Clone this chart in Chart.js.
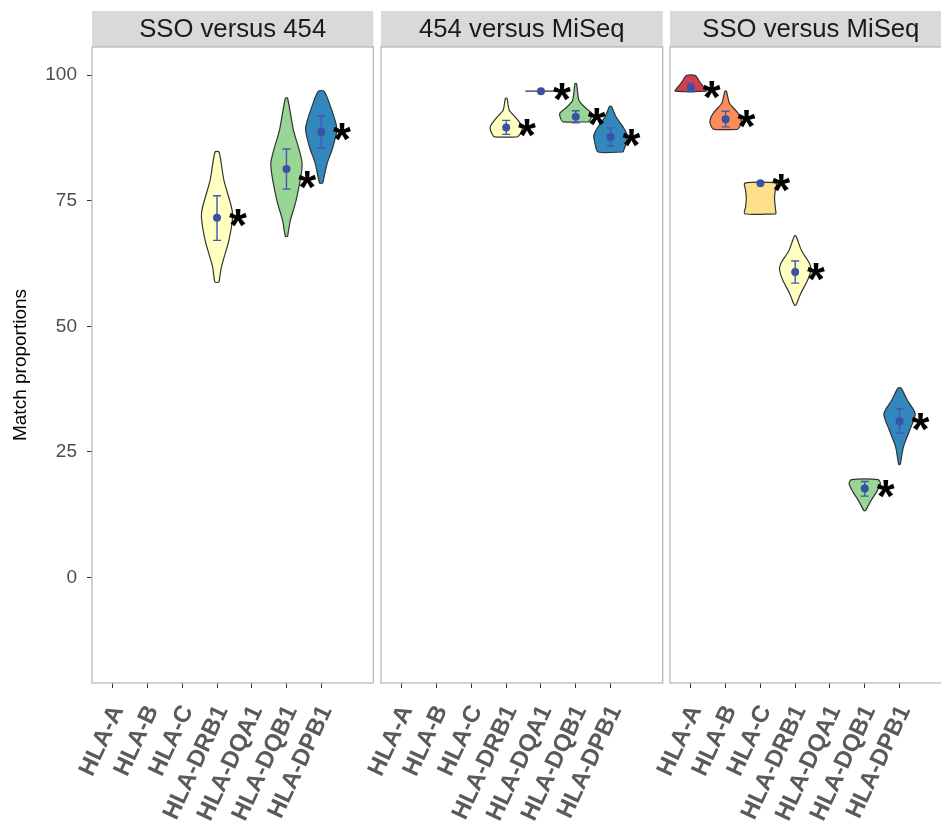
<!DOCTYPE html>
<html>
<head>
<meta charset="utf-8">
<script src="https://cdn.jsdelivr.net/npm/chart.js@4.4.0/dist/chart.umd.min.js"></script>
<style>
  html, body { margin: 0; padding: 0; background: #fff; overflow: hidden; width: 941px; height: 834px; }
  canvas { position: absolute; top: 0; }
</style>
</head>
<body>
<canvas id="p1" width="380" height="834" style="left:0px"></canvas>
<canvas id="p2" width="400" height="834" style="left:300px"></canvas>
<canvas id="p3" width="400" height="834" style="left:590px"></canvas>
<script>
// categories and colours (Spectral)
const genes = ['HLA-A', 'HLA-B', 'HLA-C', 'HLA-DRB1', 'HLA-DQA1', 'HLA-DQB1', 'HLA-DPB1'];
const geneColors = ['#D53E4F', '#FC8D59', '#FEE08B', '#FFFFBF', '#E6F598', '#99D594', '#3288BD'];
const yTicks = [0, 25, 50, 75, 100];

// SSO versus 454
const p1Genes = ['HLA-DRB1', 'HLA-DQB1', 'HLA-DPB1'];
const p1Mean = [71.6, 81.3, 88.7];
const p1Lo = [67.1, 77.3, 85.5];
const p1Hi = [76.0, 85.3, 91.9];
const p1Star = [71.6, 79.1, 88.7];
// violin outlines: heights (bottom to top) and relative half widths
const p1VioY = [
  [58.8, 61.8, 67.1, 71.8, 73.8, 79.1, 84.7],
  [67.9, 71.1, 75.1, 82.4, 89.0, 95.4],
  [78.5, 82.4, 85.7, 89.4, 93.7, 96.8]
];
const p1VioW = [
  [0.13, 0.28, 0.76, 1, 0.92, 0.44, 0.13],
  [0.07, 0.25, 0.62, 1, 0.45, 0.07],
  [0.1, 0.38, 0.75, 1, 0.6, 0.18]
];

// 454 versus MiSeq
const p2Genes = ['HLA-DRB1', 'HLA-DQA1', 'HLA-DQB1', 'HLA-DPB1'];
const p2Mean = [89.6, 96.8, 91.7, 87.7];
const p2Lo = [88.2, null, 90.5, 85.9];
const p2Hi = [91.0, null, 92.9, 89.5];
const p2Star = [89.4, 96.7, 91.7, 87.5];
const p2VioY = [
  [87.7, 88.4, 89.7, 91.4, 93.0, 95.4],
  [96.8, 96.8],
  [90.7, 91.4, 92.4, 93.7, 95.0, 98.3],
  [84.7, 86.1, 88.0, 89.7, 91.7, 93.8]
];
const p2VioW = [
  [0.72, 0.92, 1.02, 0.65, 0.2, 0.05],
  [1, 1],
  [0.82, 0.97, 1.02, 0.55, 0.2, 0.05],
  [0.8, 0.97, 1.07, 0.8, 0.35, 0.06]
];

// SSO versus MiSeq
const p3Genes = ['HLA-A', 'HLA-B', 'HLA-C', 'HLA-DRB1', 'HLA-DQB1', 'HLA-DPB1'];
const p3Mean = [97.5, 91.2, 78.5, 60.8, 17.7, 31.1];
const p3Lo = [96.7, 89.7, null, 58.6, 16.2, 28.7];
const p3Hi = [98.4, 92.8, null, 63.0, 19.1, 33.6];
const p3Star = [97.1, 91.2, 78.5, 60.8, 17.7, 30.9];
const p3VioY = [
  [96.8, 97.6, 98.5, 99.9],
  [89.2, 90.0, 91.0, 92.4, 94.4, 96.8],
  [72.4, 73.8, 75.5, 77.1, 78.5],
  [54.2, 56.5, 59.2, 61.2, 62.5, 65.1, 68.0],
  [13.3, 15.3, 17.0, 18.7, 19.5],
  [22.5, 26.0, 29.3, 32.6, 35.3, 37.7]
];
const p3VioW = [
  [1, 0.84, 0.6, 0.28],
  [0.75, 0.95, 1, 0.8, 0.25, 0.05],
  [1, 0.95, 0.9, 0.95, 1],
  [0.05, 0.35, 0.8, 1, 0.92, 0.4, 0.05],
  [0.05, 0.4, 0.75, 1, 0.85],
  [0.05, 0.25, 0.65, 1, 0.5, 0.1]
];

const FONT = '"Liberation Sans", Arial, Helvetica, sans-serif';
const HALF = 0.45;       // max violin half width in category units
const STAR_DX = 0.6;

function violin(gene, ys, ws) {
  const gi = genes.indexOf(gene);
  const cx = gi + 1;
  const pts = [];
  for (let i = 0; i < ys.length; i++) pts.push({ x: cx + ws[i] * HALF, y: ys[i] });
  for (let i = ys.length - 1; i >= 0; i--) pts.push({ x: cx - ws[i] * HALF, y: ys[i] });
  pts.push(pts[0]);
  return {
    type: 'scatter',
    label: gene,
    data: pts,
    showLine: true,
    fill: 'shape',
    tension: 0.25,
    backgroundColor: geneColors[gi],
    borderColor: '#333333',
    borderWidth: 1.2,
    pointRadius: 0,
    order: 2
  };
}

function panelPlugin(title, gs, lo, hi, star) {
  return {
    id: 'panel',
    beforeDraw(chart) {
      const { ctx, chartArea: a } = chart;
      ctx.save();
      ctx.fillStyle = '#D9D9D9';
      ctx.fillRect(a.left, 11, a.right - a.left, a.top - 11);
      ctx.fillStyle = '#1A1A1A';
      ctx.font = '25.7px ' + FONT;
      ctx.textAlign = 'center';
      ctx.textBaseline = 'middle';
      ctx.fillText(title, (a.left + a.right) / 2, (11 + a.top) / 2 + 1);
      ctx.restore();
    },
    beforeDatasetDraw(chart, args) {
      if (chart.data.datasets[args.index].label !== 'mean') return;
      const { ctx } = chart;
      const xs = chart.scales.x, ysc = chart.scales.y;
      ctx.save();
      ctx.strokeStyle = '#4358B0';
      ctx.lineWidth = 1.4;
      gs.forEach((g, i) => {
        if (lo[i] == null) return;
        const px = xs.getPixelForValue(genes.indexOf(g) + 1);
        const y1 = ysc.getPixelForValue(lo[i]), y2 = ysc.getPixelForValue(hi[i]);
        ctx.beginPath();
        ctx.moveTo(px, y1); ctx.lineTo(px, y2);
        ctx.moveTo(px - 4, y1); ctx.lineTo(px + 4, y1);
        ctx.moveTo(px - 4, y2); ctx.lineTo(px + 4, y2);
        ctx.stroke();
      });
      ctx.restore();
    },
    afterDatasetsDraw(chart) {
      const { ctx } = chart;
      const xs = chart.scales.x, ysc = chart.scales.y;
      ctx.save();
      ctx.fillStyle = '#000';
      ctx.font = 'bold 46px ' + FONT;
      ctx.textAlign = 'center';
      ctx.textBaseline = 'alphabetic';
      const m = ctx.measureText('*');
      const off = (m.actualBoundingBoxAscent - m.actualBoundingBoxDescent) / 2;
      gs.forEach((g, i) => {
        const px = xs.getPixelForValue(genes.indexOf(g) + 1 + STAR_DX);
        const py = ysc.getPixelForValue(star[i]);
        ctx.fillText('*', px, py + off);
      });
      ctx.restore();
    },
    afterDraw(chart) {
      const { ctx, chartArea: a } = chart;
      ctx.save();
      ctx.strokeStyle = '#B8B8B8';
      ctx.lineWidth = 1.3;
      ctx.strokeRect(a.left, a.top, a.right - a.left, a.bottom - a.top);
      ctx.restore();
    }
  };
}

function makePanel(id, title, gs, mean, lo, hi, star, vy, vw, pad, showY) {
  const datasets = [{
    type: 'scatter',
    label: 'mean',
    data: gs.map((g, i) => ({ x: genes.indexOf(g) + 1, y: mean[i] })),
    pointRadius: 4,
    pointBackgroundColor: '#3A52A6',
    pointBorderWidth: 0,
    order: 0
  }];
  gs.forEach((g, i) => datasets.push(violin(g, vy[i], vw[i])));

  new Chart(document.getElementById(id), {
    type: 'scatter',
    data: { datasets },
    plugins: [panelPlugin(title, gs, lo, hi, star)],
    options: {
      responsive: false,
      animation: false,
      devicePixelRatio: 1,
      layout: { padding: { top: 47, bottom: 0, left: pad[0], right: pad[1] } },
      plugins: { legend: { display: false }, tooltip: { enabled: false } },
      scales: {
        x: {
          type: 'linear',
          min: 0.4,
          max: 8.5,
          afterBuildTicks: s => { s.ticks = genes.map((g, i) => ({ value: i + 1 })); },
          afterFit: s => { s.height = 151; s.paddingLeft = 0; s.paddingRight = 0; },
          border: { display: false },
          grid: { color: 'rgba(0,0,0,0)', tickColor: '#333', tickLength: 5 },
          ticks: {
            autoSkip: false,
            minRotation: 65,
            maxRotation: 65,
            padding: 13,
            labelOffset: 5,
            color: '#5A5A5A',
            font: { family: FONT, size: 24, weight: 'bold' },
            callback: v => genes[Math.round(v) - 1]
          }
        },
        y: {
          min: -21,
          max: 105.6,
          afterBuildTicks: s => { s.ticks = yTicks.map(v => ({ value: v })); },
          afterFit: s => { s.width = showY ? 92 : 0; },
          border: { display: false },
          grid: { color: 'rgba(0,0,0,0)', tickColor: '#333', tickLength: 5, drawTicks: showY },
          ticks: {
            display: showY,
            padding: 10,
            color: '#4D4D4D',
            font: { family: FONT, size: 19 }
          },
          title: {
            display: showY,
            text: 'Match proportions',
            color: '#000',
            padding: { top: 9, bottom: 0 },
            font: { family: FONT, size: 19 }
          }
        }
      }
    }
  });
}

makePanel('p1', 'SSO versus 454', p1Genes, p1Mean, p1Lo, p1Hi, p1Star, p1VioY, p1VioW, [0, 6.7], true);
makePanel('p2', '454 versus MiSeq', p2Genes, p2Mean, p2Lo, p2Hi, p2Star, p2VioY, p2VioW, [81, 37.3], false);
makePanel('p3', 'SSO versus MiSeq', p3Genes, p3Mean, p3Lo, p3Hi, p3Star, p3VioY, p3VioW, [80, 38.3], false);
</script>
</body>
</html>
